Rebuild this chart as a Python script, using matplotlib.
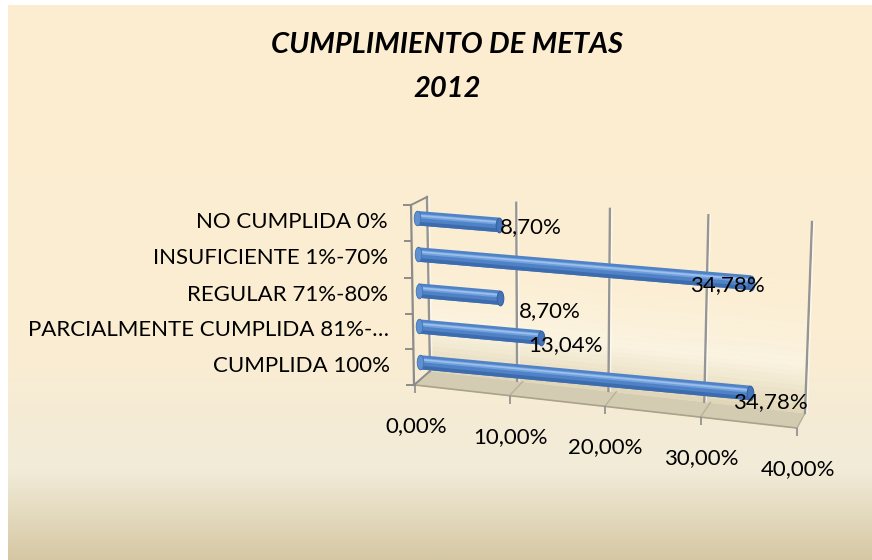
import numpy as np
import matplotlib
matplotlib.use("Agg")
import matplotlib.pyplot as plt
from matplotlib.transforms import Transform, Affine2D
from matplotlib.colors import LinearSegmentedColormap, to_rgba
from matplotlib.markers import MarkerStyle, TICKLEFT, TICKDOWN
from matplotlib.path import Path

W, H = 872, 560

# data (bottom to top, as drawn)
categorias = ["CUMPLIDA 100%", "PARCIALMENTE CUMPLIDA 81%-\u2026", "REGULAR 71%-80%",
              "INSUFICIENTE 1%-70%", "NO CUMPLIDA 0%"]
valores = [0.3478, 0.1304, 0.0870, 0.3478, 0.0870]
x_ticks = [0.0, 0.1, 0.2, 0.3, 0.4]
x_ticklabels = ["0,00%", "10,00%", "20,00%", "30,00%", "40,00%"]
titulo = ["CUMPLIMIENTO DE METAS", "2012"]

# label nudges in pixels (dx, dy down), the way excel dropped them
label_nudge = [(-17, 9), (-13, 8), (19, 13), (-61, 2), (1, 2)]

plt.rcParams['font.family'] = ['Lato', 'DejaVu Sans']


class Persp(Transform):
    """unit square -> pixel quad (homography), fakes the 3d view"""
    input_dims = 2
    output_dims = 2
    is_separable = False
    has_inverse = False

    def __init__(self, quad):
        super().__init__()
        src = [(0, 0), (1, 0), (0, 1), (1, 1)]
        A, b = [], []
        for (u, v), (X, Y) in zip(src, quad):
            Y = H - Y
            A.append([u, v, 1, 0, 0, 0, -u * X, -v * X]); b.append(X)
            A.append([0, 0, 0, u, v, 1, -u * Y, -v * Y]); b.append(Y)
        h = np.linalg.solve(np.array(A, float), np.array(b, float))
        self.m = np.append(h, 1).reshape(3, 3)

    def transform_non_affine(self, xy):
        xy = np.atleast_2d(np.asarray(xy, float))
        p = np.column_stack([xy, np.ones(len(xy))]) @ self.m.T
        return p[:, :2] / p[:, 2:]


def px(dx, dy):
    return Affine2D().translate(dx, -dy)


fig = plt.figure(figsize=(W / 100, H / 100), dpi=100)

# background, row 0 = top
bg = fig.add_axes([8 / W, 0, (W - 8) / W, (H - 5) / H])
bg_cm = LinearSegmentedColormap.from_list("bg", [(0, "#fdeed1"), (0.6, "#fbedd2"),
                                                 (0.84, "#f1ebd8"), (1.0, "#d6c8a4")])
bg.imshow(np.linspace(0, 1, 256)[:, None], aspect="auto", cmap=bg_cm, origin="upper")
bg.set_axis_off()

ax = fig.add_axes([0, 0, 1, 1])
ax.set_axis_off()
xlim = (0.0, 0.4)
ylim = (-0.5, len(categorias) - 0.5)
ax.set_xlim(*xlim)
ax.set_ylim(*ylim)
ax.set_autoscale_on(False)

# corners: bottom-left, bottom-right, top-left, top-right (pixels, y down)
bar_T = ax.transLimits + Persp([(420, 380), (801, 416), (417, 200), (803, 231)])
wall_T = ax.transLimits + Persp([(430, 371), (805, 413), (427, 197), (812, 222)])
floor_T = ax.transLimits + Persp([(415, 385), (797, 428), (430, 371), (805, 413)])

# back wall shading
wall_cm = LinearSegmentedColormap.from_list("wall", [(0, to_rgba("#e0d5b6", 0.95)),
                                                     (0.25, to_rgba("#fbf5e4", 0.85)),
                                                     (0.6, to_rgba("#fdf2da", 0.35)),
                                                     (1.0, to_rgba("#fdefd2", 0.0))])
edges = np.linspace(ylim[0], ylim[1], 41)
for k in range(40):
    ax.fill_between(xlim, edges[k], edges[k + 1], color=wall_cm(k / 39), lw=0,
                    transform=wall_T, clip_on=False, zorder=1)

# floor
ax.fill_between(xlim, ylim[0], ylim[1], color="#d3cbb2", lw=0, transform=floor_T,
                clip_on=False, zorder=2)
ax.plot(xlim, [ylim[0]] * 2, color="#aaa28c", lw=1.2, transform=floor_T, clip_on=False, zorder=3)
for t in x_ticks:
    ax.plot([t, t], ylim, color="#b9b19a", lw=1, transform=floor_T, clip_on=False, zorder=2)
    ax.plot([t], [ylim[0]], marker=TICKDOWN, ms=6, mew=1.2, color="#8c8c8c",
            transform=floor_T, clip_on=False, zorder=3)

# wall gridlines
for t in x_ticks:
    ax.plot([t, t], ylim, color="#959595", lw=1.7, transform=wall_T, clip_on=False, zorder=3)
    ax.plot([t, t], ylim, color="#ffffff", lw=1.0, alpha=0.6,
            transform=wall_T + px(2, 0), clip_on=False, zorder=3)

# left axis line + ticks
axis_T = bar_T + px(-6, 5)
ax.plot([0, 0], ylim, color="#8c8c8c", lw=1.6, transform=axis_T, clip_on=False, zorder=4)
ax.plot(np.zeros(len(categorias) + 1), np.arange(len(categorias) + 1) - 0.5, ls="none",
        marker=TICKLEFT, ms=6, mew=1.4, color="#8c8c8c", transform=axis_T,
        clip_on=False, zorder=4)
# connectors from the front axis to the wall
for yy in ylim:
    p0 = axis_T.transform((0, yy))
    p1 = (wall_T if yy == ylim[1] else floor_T).transform((0, yy if yy == ylim[1] else ylim[1]))
    fig.add_artist(plt.Line2D([p0[0] / W, p1[0] / W], [p0[1] / H, p1[1] / H],
                              color="#8c8c8c", lw=1.4, zorder=4))

# cylinders
ypos = np.arange(len(categorias))
bh = 0.4
ax.barh(ypos, valores, height=bh, color="#4f82c6", lw=0, transform=bar_T, clip_on=False, zorder=5)
ax.barh(ypos - bh * 0.37, valores, height=bh * 0.26, color="#3d6cae", lw=0, transform=bar_T,
        clip_on=False, zorder=6)
ax.barh(ypos + bh * 0.16, valores, height=bh * 0.3, color="#72a0dc", lw=0, transform=bar_T,
        clip_on=False, zorder=6)
ax.barh(ypos + bh * 0.19, valores, height=bh * 0.12, color="#9cc0ec", lw=0, transform=bar_T,
        clip_on=False, zorder=6)
cap = MarkerStyle(Path.unit_circle().transformed(Affine2D().scale(0.45, 1.0)))
ax.plot(np.zeros(len(valores)), ypos, ls="none", marker=cap, ms=10.5, color="#5e90d2",
        mec="#4272b4", mew=0.6, transform=bar_T, clip_on=False, zorder=7)
ax.plot(valores, ypos, ls="none", marker=cap, ms=10.5, color="#4575b8",
        mec="#3563a3", mew=0.8, transform=bar_T, clip_on=False, zorder=7)

# value labels
for i, v in enumerate(valores):
    dx, dy = label_nudge[i]
    ax.text(v, ypos[i], f"{v * 100:.2f}%".replace(".", ","), fontsize=16, ha="left",
            va="center", color="black", transform=bar_T + px(dx, dy), clip_on=False, zorder=8)

# category labels
for i, c in enumerate(categorias):
    ax.text(0, ypos[i], c, fontsize=16, ha="right", va="center", color="black",
            transform=bar_T + px(-30, 4), clip_on=False)

# x tick labels under the floor edge
for t, lab in zip(x_ticks, x_ticklabels):
    ax.text(t, ylim[0], lab, fontsize=16, ha="center", va="center", color="black",
            transform=floor_T + px(1, 41), clip_on=False)

for line, yy in zip(titulo, (45, 89)):
    fig.text(447 / W, 1 - yy / H, line, fontsize=21, fontweight="bold", fontstyle="italic",
             ha="center", va="center")

fig.savefig("out.png", dpi=100)
